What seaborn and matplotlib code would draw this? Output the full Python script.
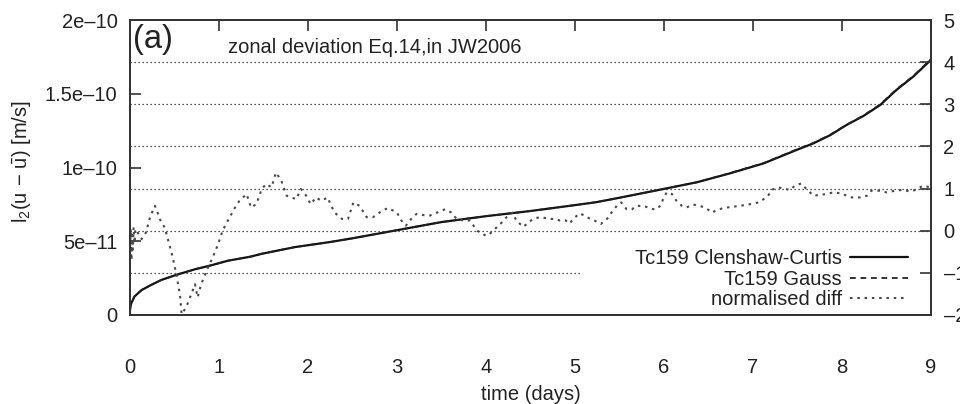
import numpy as np
import pandas as pd
import matplotlib
matplotlib.use("Agg")
import matplotlib.pyplot as plt
import seaborn as sns

# ---------------- data ----------------
# Tc159 Clenshaw-Curtis (left axis, units of 1e-11 m/s)
t_cc = [0.0, 0.005, 0.015, 0.05, 0.13, 0.225, 0.35, 0.52, 0.73, 0.9, 1.1, 1.35, 1.48,
        1.85, 2.25, 2.5, 3.0, 3.5, 3.75, 4.0, 4.5, 5.0, 5.24, 5.5, 6.0, 6.37, 6.74,
        7.12, 7.49, 7.68, 7.87, 8.05, 8.24, 8.43, 8.61, 8.8, 9.0]
cc_e11 = [0.3, 0.6, 0.8, 1.25, 1.69, 2.0, 2.37, 2.72, 3.1, 3.35, 3.68, 3.95, 4.15,
          4.6, 4.95, 5.2, 5.75, 6.3, 6.5, 6.7, 7.05, 7.45, 7.65, 7.95, 8.55, 9.0, 9.6,
          10.28, 11.19, 11.64, 12.2, 12.88, 13.49, 14.24, 15.25, 16.16, 17.3]
# Tc159 Gauss (left axis, units of 1e-11 m/s)
t_ga = t_cc
ga_e11 = [0.3, 0.6, 0.8, 1.25, 1.69, 2.0, 2.37, 2.72, 3.1, 3.35, 3.68, 3.95, 4.15,
          4.6, 4.95, 5.2, 5.75, 6.3, 6.5, 6.7, 7.05, 7.45, 7.65, 7.95, 8.55, 9.0, 9.62,
          10.3, 11.22, 11.67, 12.23, 12.9, 13.52, 14.28, 15.29, 16.2, 17.35]
# normalised diff (right axis)
t_nd = [0.0, 0.008, 0.016, 0.024, 0.032, 0.04, 0.05, 0.06, 0.07, 0.1, 0.13, 0.18, 0.22,
        0.26, 0.28, 0.31, 0.35, 0.39, 0.43, 0.48, 0.52, 0.56, 0.58, 0.63, 0.69, 0.73,
        0.76, 0.80, 0.86, 0.93, 0.99, 1.04, 1.10, 1.18, 1.23, 1.31, 1.36, 1.42, 1.48,
        1.53, 1.59, 1.64, 1.70, 1.76, 1.81, 1.87, 1.92, 1.98, 2.03, 2.09, 2.15, 2.22,
        2.27, 2.30, 2.38, 2.45, 2.51, 2.58, 2.66, 2.73, 2.83, 2.90, 3.0, 3.05, 3.10,
        3.16, 3.22, 3.30, 3.37, 3.45, 3.54, 3.61, 3.67, 3.75, 3.82, 3.90, 4.0, 4.04,
        4.10, 4.18, 4.23, 4.30, 4.34, 4.42, 4.49, 4.55, 4.63, 4.70, 4.78, 4.83, 4.89,
        4.94, 4.98, 5.05, 5.11, 5.17, 5.22, 5.29, 5.36, 5.41, 5.47, 5.52, 5.58, 5.64,
        5.69, 5.77, 5.82, 5.90, 5.96, 5.99, 6.03, 6.09, 6.14, 6.20, 6.25, 6.33, 6.40,
        6.47, 6.54, 6.59, 6.67, 6.74, 6.85, 6.97, 7.06, 7.12, 7.17, 7.21, 7.28, 7.36,
        7.42, 7.47, 7.54, 7.60, 7.68, 7.75, 7.83, 7.90, 7.98, 8.03, 8.11, 8.20, 8.28,
        8.33, 8.41, 8.50, 8.60, 8.69, 8.76, 8.83, 8.91, 8.99]
nd = [-0.55, 0.05, -0.7, -0.1, -0.45, 0.08, -0.3, 0.0, 0.04, -0.1, -0.2, -0.04, 0.28,
      0.5, 0.59, 0.43, 0.2, 0.08, -0.24, -0.63, -1.03, -1.5, -1.98, -1.82, -1.5, -1.27,
      -1.58, -1.27, -0.95, -0.63, -0.32, 0.0, 0.24, 0.55, 0.71, 0.87, 0.55, 0.63, 0.99,
      1.11, 1.03, 1.38, 1.19, 0.83, 0.79, 0.75, 0.99, 0.83, 0.63, 0.79, 0.71, 0.79,
      0.55, 0.43, 0.28, 0.28, 0.67, 0.59, 0.32, 0.32, 0.47, 0.54, 0.43, 0.24, 0.12,
      0.28, 0.40, 0.37, 0.36, 0.43, 0.51, 0.43, 0.28, 0.24, 0.24, 0.0, -0.12, -0.08,
      0.04, 0.2, 0.32, 0.43, 0.24, 0.09, 0.22, 0.3, 0.32, 0.28, 0.28, 0.24, 0.25,
      0.17, 0.28, 0.41, 0.36, 0.28, 0.24, 0.16, 0.28, 0.43, 0.59, 0.67, 0.51, 0.51,
      0.59, 0.59, 0.55, 0.50, 0.59, 0.75, 0.91, 0.87, 0.71, 0.59, 0.55, 0.62, 0.59,
      0.54, 0.43, 0.49, 0.54, 0.56, 0.59, 0.63, 0.67, 0.75, 0.83, 0.97, 1.03, 0.99,
      0.97, 1.07, 1.12, 0.99, 0.83, 0.85, 0.87, 0.91, 0.89, 0.85, 0.79, 0.79, 0.83,
      0.95, 0.95, 0.91, 0.95, 0.97, 0.93, 0.97, 1.07, 1.03]

x_ticks = [0, 1, 2, 3, 4, 5, 6, 7, 8, 9]
x_ticklabels = ["0", "1", "2", "3", "4", "5", "6", "7", "8", "9"]
yl_ticks = [0, 5e-11, 1e-10, 1.5e-10, 2e-10]
yl_ticklabels = ["0", "5e\u201311", "1e\u201310", "1.5e\u201310", "2e\u201310"]
yr_ticks = [-2, -1, 0, 1, 2, 3, 4, 5]
yr_ticklabels = ["\u20132", "\u20131", "0", "1", "2", "3", "4", "5"]
grid_levels = [0, 1, 2, 3, 4]
labels = ["Tc159 Clenshaw-Curtis", "Tc159 Gauss", "normalised diff"]

# ---------------- style ----------------
sns.set_style("white")
plt.rcParams["font.family"] = ["Liberation Sans", "DejaVu Sans"]
plt.rcParams["mathtext.fontset"] = "custom"
plt.rcParams["mathtext.rm"] = "Liberation Sans"
plt.rcParams["mathtext.it"] = "Liberation Sans:italic"
FS = 14.5
TXT = "#222222"

fig = plt.figure(figsize=(9.6, 4.04), dpi=100)
ax = fig.add_axes([130 / 960, 89 / 404, 801 / 960, 295 / 404])
ax2 = ax.twinx()

df_cc = pd.DataFrame({"t": t_cc, "v": np.array(cc_e11) * 1e-11})
df_ga = pd.DataFrame({"t": t_ga, "v": np.array(ga_e11) * 1e-11})
df_nd = pd.DataFrame({"t": t_nd, "v": nd})

sns.lineplot(data=df_cc, x="t", y="v", ax=ax, color="#111111", lw=1.6,
             label=labels[0], legend=False, errorbar=None, sort=False)
sns.lineplot(data=df_ga, x="t", y="v", ax=ax, color="#222222", lw=1.3,
             linestyle=(0, (3.2, 2.6)), label=labels[1], legend=False,
             errorbar=None, sort=False)
sns.lineplot(data=df_nd, x="t", y="v", ax=ax2, color="#4a4a4a", lw=1.5,
             linestyle=(0, (1.2, 2.3)), label=labels[2], legend=False,
             errorbar=None, sort=False)

ax.set_xlim(0, 9)
ax.set_ylim(0, 2e-10)
ax2.set_ylim(-2, 5)

# grid lines from right axis ticks
for g in grid_levels:
    ax2.axhline(g, color="#222222", lw=0.9, linestyle=(0, (1, 2.2)), zorder=0)
ax2.axhline(-1, xmax=(580 - 130) / 801, color="#222222", lw=0.9,
            linestyle=(0, (1, 2.2)), zorder=0)

ax.set_xticks(x_ticks)
ax.set_xticklabels(x_ticklabels)
ax.set_yticks(yl_ticks)
ax.set_yticklabels(yl_ticklabels)
ax2.set_yticks(yr_ticks)
ax2.set_yticklabels(yr_ticklabels)

ax.tick_params(axis="x", direction="in", length=8, width=1.2, pad=31,
               labelsize=FS, colors="#333333", labelcolor=TXT, top=True)
ax.tick_params(axis="y", direction="in", length=8, width=1.2, pad=9,
               labelsize=FS, colors="#333333", labelcolor=TXT)
ax2.tick_params(axis="y", direction="in", length=8, width=1.2, pad=9,
                labelsize=FS, colors="#333333", labelcolor=TXT)

for a in (ax, ax2):
    for s in a.spines.values():
        s.set_color("#333333")
        s.set_linewidth(1.3)

ax.set_xlabel("time (days)", fontsize=FS, color=TXT, labelpad=6)
ax.set_ylabel(r"$\mathrm{l_2(u\,-\,\bar{u})}$ [m/s]", fontsize=FS, color=TXT)
ax.yaxis.set_label_coords(-0.121, 0.52)
ax2.set_ylabel("")

ax.text(0.004, 0.905, "(a)", transform=ax.transAxes, fontsize=23.5,
        color=TXT, va="baseline", ha="left")
ax.text((228 - 130) / 801, (315 - 53) / 295, "zonal deviation Eq.14,in JW2006",
        transform=ax.transAxes, fontsize=FS, color=TXT, va="baseline", ha="left")

h1, l1 = ax.get_legend_handles_labels()
h2, l2 = ax2.get_legend_handles_labels()
leg = ax2.legend(h1 + h2, l1 + l2, loc="lower right",
                 bbox_to_anchor=((908 - 130) / 801, (315 - 309) / 295),
                 frameon=False, markerfirst=False, fontsize=FS,
                 handlelength=2.9, handletextpad=0.4, labelspacing=0.07,
                 borderpad=0, borderaxespad=0)
for t in leg.get_texts():
    t.set_color(TXT)

fig.savefig("out.png", dpi=100)
